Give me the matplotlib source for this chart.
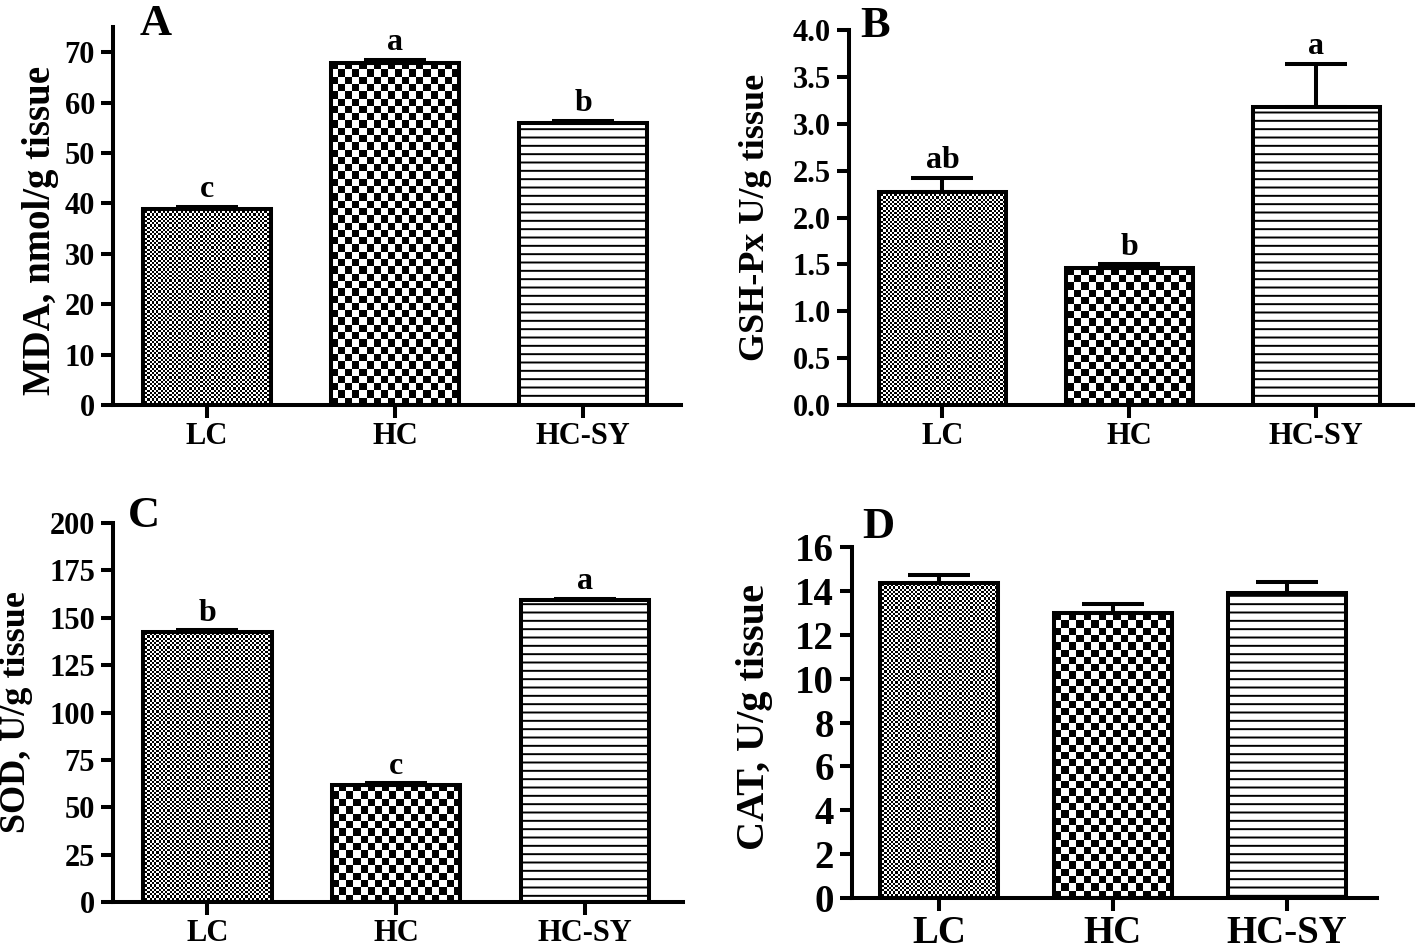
import matplotlib
matplotlib.use('Agg')
import matplotlib.pyplot as plt
import numpy as np

plt.rcParams['font.family'] = ['Liberation Serif', 'DejaVu Serif']
plt.rcParams['font.weight'] = 'bold'
plt.rcParams['hatch.linewidth'] = 1.4

groups = ['LC', 'HC', 'HC-SY']

# A - MDA
mda = [38.8, 67.9, 55.9]
mda_err = [0.5, 0.6, 0.5]
mda_sig = ['c', 'a', 'b']

# B - GSH-Px
gsh = [2.27, 1.46, 3.18]
gsh_err = [0.15, 0.04, 0.46]
gsh_sig = ['ab', 'b', 'a']

# C - SOD
sod = [142.5, 62.0, 159.3]
sod_err = [0.8, 0.6, 0.5]
sod_sig = ['b', 'c', 'a']

# D - CAT (no letters)
cat = [14.36, 12.99, 13.9]
cat_err = [0.37, 0.41, 0.5]

LW = 2.9


def checker(ax, rect, cell):
    # checkerboard fill clipped to the bar
    x0, w, h = rect.get_x(), rect.get_width(), rect.get_height()
    p0 = ax.transData.transform((x0, 0))
    p1 = ax.transData.transform((x0 + w, h))
    nx = max(1, int(round((p1[0] - p0[0]) / cell)))
    ny = max(1, int(round((p1[1] - p0[1]) / cell)))
    grid = (np.add.outer(np.arange(ny), np.arange(nx)) % 2).astype(float)
    im = ax.imshow(grid, cmap='gray', extent=(x0, x0 + w, 0, h), origin='lower',
                   interpolation='nearest', aspect='auto', zorder=0.5)
    im.set_clip_path(rect)


def panel(ax, vals, errs, sig, ylim, yticks, tick_fs, xtick_fs, ylabel, lab_fs, lab_xy, cap=22):
    x = np.arange(len(groups))
    ax.set_xlim(-0.5, 2.52)
    ax.set_ylim(*ylim)
    bars = ax.bar(x, vals, width=0.68, facecolor='none', edgecolor='black',
                  linewidth=LW, zorder=2)
    bars[2].set_facecolor('white')
    bars[2].set_hatch('--')
    checker(ax, bars[0], 2.2)
    checker(ax, bars[1], 7.3)
    ax.errorbar(x, vals, yerr=[np.zeros(len(vals)), errs], fmt='none', ecolor='black',
                elinewidth=LW, capsize=cap, capthick=LW, zorder=3)
    if sig:
        for xi, v, e, s in zip(x, vals, errs, sig):
            ax.annotate(s, (xi, v + e), xytext=(0, 7), textcoords='offset points',
                        ha='center', va='baseline', fontsize=23, fontweight='bold')
    ax.set_xticks(x, groups)
    ax.set_yticks(yticks)
    ax.set_xlim(-0.5, 2.52)
    ax.set_ylim(*ylim)
    for s in ['top', 'right']:
        ax.spines[s].set_visible(False)
    for s in ['left', 'bottom']:
        ax.spines[s].set_linewidth(LW)
    ax.tick_params(axis='both', width=LW, length=9)
    ax.tick_params(axis='x', labelsize=xtick_fs, pad=3)
    ax.tick_params(axis='y', labelsize=tick_fs, pad=4)
    ax.set_ylabel(ylabel, fontsize=lab_fs, fontweight='bold', va='center', ha='center')
    ax.yaxis.set_label_coords(*lab_xy)


fig = plt.figure(figsize=(14.18, 9.49), dpi=100)

axA = fig.add_axes([0.0797, 0.5732, 0.4005, 0.3983])
axB = fig.add_axes([0.5987, 0.5732, 0.3980, 0.3952])
axC = fig.add_axes([0.0797, 0.0495, 0.4020, 0.3994])
axD = fig.add_axes([0.6008, 0.0537, 0.3706, 0.3699])

panel(axA, mda, mda_err, mda_sig, (0, 75), np.arange(0, 71, 10), 22, 22,
      'MDA, nmol/g tissue', 28, (-0.128, 0.463))
panel(axB, gsh, gsh_err, gsh_sig, (0, 4.0), np.arange(0, 4.01, 0.5), 22, 22,
      'GSH-Px U/g tissue', 26, (-0.165, 0.499))
axB.set_yticklabels(['%.1f' % t for t in np.arange(0, 4.01, 0.5)])
panel(axC, sod, sod_err, sod_sig, (0, 200), np.arange(0, 201, 25), 22, 22,
      'SOD, U/g tissue', 26, (-0.170, 0.501))
panel(axD, cat, cat_err, None, (0, 16), np.arange(0, 17, 2), 28, 28,
      'CAT, U/g tissue', 29, (-0.185, 0.516))

fig.text(0.0987, 0.963, 'A', fontsize=32, fontweight='bold', va='baseline')
fig.text(0.6065, 0.961, 'B', fontsize=32, fontweight='bold', va='baseline')
fig.text(0.0903, 0.4447, 'C', fontsize=32, fontweight='bold', va='baseline')
fig.text(0.6080, 0.4330, 'D', fontsize=32, fontweight='bold', va='baseline')

fig.savefig('out.png', dpi=100)
